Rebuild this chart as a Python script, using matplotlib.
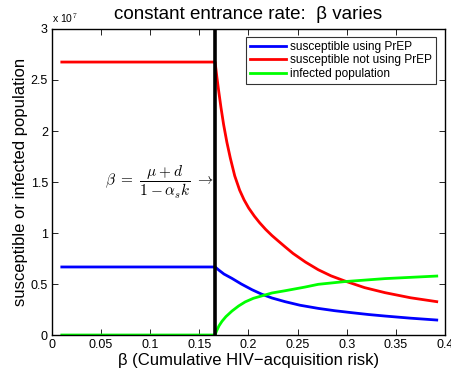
import matplotlib
matplotlib.use("Agg")
import matplotlib.pyplot as plt

plt.rcParams['font.family'] = ['Liberation Sans', 'DejaVu Sans']
plt.rcParams['mathtext.fontset'] = 'cm'

# threshold value of beta (vertical line)
beta_threshold = 0.166

# susceptible using PrEP (units of 1e7)
beta_prep = [0.01, 0.166, 0.170, 0.175, 0.1832, 0.1927, 0.2036, 0.2135, 0.2239,
             0.2372, 0.2524, 0.271, 0.288, 0.305, 0.322, 0.339, 0.365, 0.3916]
s_prep = [0.667, 0.667, 0.635, 0.598, 0.555, 0.50, 0.444, 0.40, 0.363,
          0.327, 0.292, 0.261, 0.238, 0.219, 0.201, 0.186, 0.165, 0.147]

# susceptible not using PrEP (units of 1e7)
beta_noprep = [0.01, 0.166, 0.1678, 0.1697, 0.172, 0.1747, 0.178, 0.1815, 0.186,
               0.191, 0.1955, 0.2002, 0.206, 0.2114, 0.2175, 0.2239, 0.2305,
               0.2372, 0.2453, 0.258, 0.271, 0.284, 0.2982, 0.318, 0.339,
               0.365, 0.3916]
s_noprep = [2.676, 2.676, 2.53, 2.39, 2.23, 2.062, 1.89, 1.735, 1.56,
            1.42, 1.325, 1.245, 1.165, 1.10, 1.035, 0.975, 0.92,
            0.865, 0.80, 0.715, 0.64, 0.58, 0.529, 0.465, 0.415,
            0.365, 0.327]

# infected population (units of 1e7)
beta_inf = [0.01, 0.166, 0.1675, 0.170, 0.173, 0.177, 0.1832, 0.19, 0.1967,
            0.205, 0.2239, 0.2372, 0.2575, 0.271, 0.2982, 0.339, 0.3916]
infected = [0.0, 0.0, 0.04, 0.09, 0.134, 0.18, 0.235, 0.285, 0.325,
            0.36, 0.412, 0.434, 0.47, 0.497, 0.524, 0.553, 0.578]

scale = 1e7
xticks = [0, 0.05, 0.1, 0.15, 0.2, 0.25, 0.3, 0.35, 0.4]
xticklabels = ['0', '0.05', '0.1', '0.15', '0.2', '0.25', '0.3', '0.35', '0.4']
yticks = [0, 0.5, 1, 1.5, 2, 2.5, 3]
yticklabels = ['0', '0.5', '1', '1.5', '2', '2.5', '3']

fig = plt.figure(figsize=(4.52, 3.81), dpi=100)
ax = fig.add_axes([0.115, 0.1207, 0.8695, 0.8032])

ax.plot(beta_prep, [v * scale for v in s_prep], color='#0000ff', lw=2,
        label='susceptible using PrEP')
ax.plot(beta_noprep, [v * scale for v in s_noprep], color='#ff0000', lw=2,
        label='susceptible not using PrEP')
ax.plot(beta_inf, [v * scale for v in infected], color='#00ff00', lw=2,
        label='infected population')
ax.plot([beta_threshold, beta_threshold], [0, 3 * scale], color='black', lw=2.6)

ax.text(beta_threshold - 0.0015, 1.5 * scale,
        r'$\beta\ =\ \dfrac{\mu + d}{1 - \alpha_s k}\ \rightarrow$',
        ha='right', va='center', fontsize=11)

ax.set_xlim(0, 0.4)
ax.set_ylim(0, 3 * scale)
ax.set_xticks(xticks)
ax.set_xticklabels(xticklabels)
ax.set_yticks([v * scale for v in yticks])
ax.set_yticklabels(yticklabels)
ax.tick_params(direction='in', top=True, right=True, labelsize=9,
               length=4, width=0.6, pad=3)
for s in ax.spines.values():
    s.set_linewidth(1.0)

ax.text(0.0, 1.012, r'x 10$^{7}$', transform=ax.transAxes, fontsize=7.5,
        ha='left', va='bottom')

ax.set_title('constant entrance rate:  β varies', fontsize=13.5, pad=7)
ax.set_xlabel('β (Cumulative HIV−acquisition risk)', fontsize=12, labelpad=1)
ax.set_ylabel('susceptible or infected population', fontsize=12, labelpad=2)

leg = ax.legend(loc='upper right', fontsize=8.6, frameon=True, fancybox=False,
                edgecolor='black', handlelength=3.0, borderpad=0.3,
                labelspacing=0.15, handletextpad=0.4,
                bbox_to_anchor=(0.992, 0.993))
leg.get_frame().set_linewidth(0.8)

fig.savefig('out.png', dpi=100)
